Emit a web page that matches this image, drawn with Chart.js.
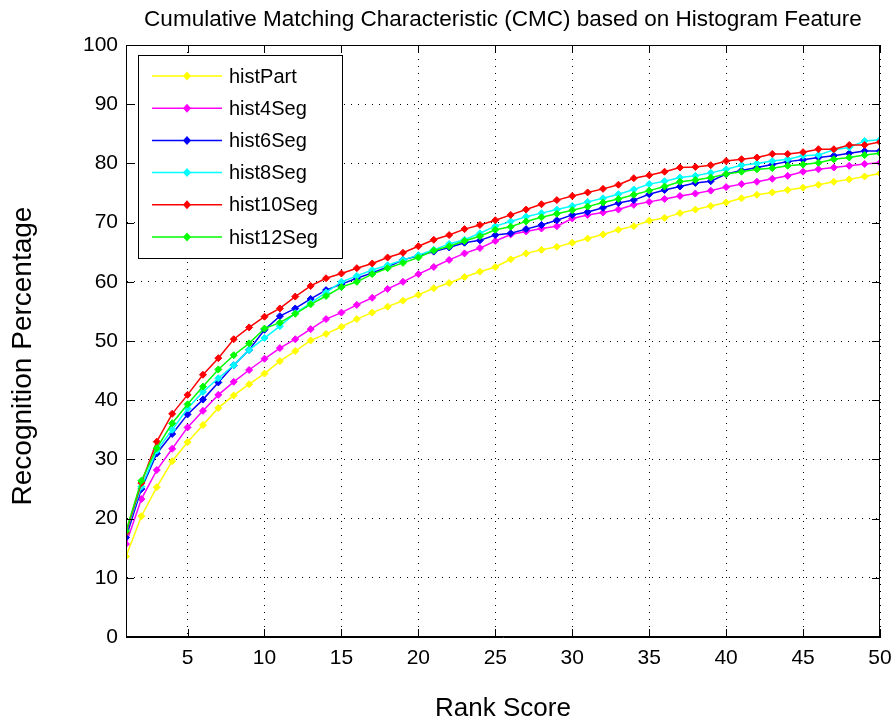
<!DOCTYPE html>
<html>
<head>
<meta charset="utf-8">
<script src="https://cdn.jsdelivr.net/npm/chart.js@4.4.1/dist/chart.umd.min.js"></script>
<style>
  body { margin: 0; background: #fff; }
  canvas { display: block; }
</style>
</head>
<body>
<canvas id="cmc" width="896" height="724"></canvas>
<script>
// rank 1..50
const ranks = [];
for (let r = 1; r <= 50; r++) ranks.push(r);

const xTicks = [5, 10, 15, 20, 25, 30, 35, 40, 45, 50];

const seriesNames = ['histPart', 'hist4Seg', 'hist6Seg', 'hist8Seg', 'hist10Seg', 'hist12Seg'];
const seriesColors = ['#ffff00', '#ff00ff', '#0000ff', '#00ffff', '#ff0000', '#00ff00'];

const histPart = [13.6, 20.4, 25.3, 29.7, 32.9, 35.8, 38.7, 40.8, 42.7, 44.5,
  46.6, 48.3, 50.1, 51.2, 52.4, 53.7, 54.8, 55.8, 56.8, 57.8,
  58.9, 59.8, 60.8, 61.7, 62.5, 63.8, 64.8, 65.4, 65.9, 66.6,
  67.3, 68.0, 68.8, 69.4, 70.3, 70.8, 71.6, 72.2, 72.8, 73.4,
  74.1, 74.7, 75.1, 75.5, 75.9, 76.4, 76.9, 77.3, 77.8, 78.3];
const hist4Seg = [15.7, 23.3, 28.2, 31.8, 35.4, 38.2, 40.9, 43.1, 45.1, 47.0,
  48.8, 50.3, 52.0, 53.7, 54.8, 56.1, 57.3, 58.8, 60.0, 61.3,
  62.5, 63.7, 64.8, 65.7, 66.9, 68.0, 68.5, 69.0, 69.4, 70.7,
  71.3, 71.7, 72.2, 73.0, 73.5, 74.0, 74.5, 74.9, 75.4, 76.0,
  76.5, 76.9, 77.4, 77.9, 78.6, 79.0, 79.3, 79.6, 79.9, 80.1];
const hist6Seg = [16.8, 25.0, 31.0, 34.3, 37.6, 40.1, 43.0, 45.9, 48.5, 51.9,
  54.2, 55.5, 57.1, 58.6, 59.6, 60.6, 61.5, 62.5, 63.7, 64.4,
  65.1, 65.8, 66.6, 67.0, 67.9, 68.2, 68.9, 69.6, 70.4, 71.3,
  71.8, 72.5, 73.3, 73.8, 74.8, 75.5, 76.1, 76.7, 77.0, 78.2,
  78.8, 79.3, 79.8, 80.3, 80.6, 81.0, 81.3, 81.7, 82.1, 82.1];
const hist8Seg = [17.6, 25.4, 31.5, 35.0, 38.6, 41.4, 43.7, 45.9, 48.5, 50.5,
  52.5, 54.7, 56.4, 58.2, 60.0, 61.0, 62.0, 62.8, 63.7, 64.5,
  65.4, 66.4, 67.1, 68.2, 69.4, 70.2, 71.0, 71.6, 72.2, 72.8,
  73.5, 74.1, 74.8, 75.6, 76.5, 77.0, 77.6, 77.9, 78.4, 79.0,
  79.7, 80.0, 80.4, 80.7, 81.3, 81.4, 82.3, 82.7, 83.8, 84.0];
const hist10Seg = [17.6, 26.0, 33.0, 37.7, 40.9, 44.3, 47.1, 50.3, 52.3, 54.1,
  55.5, 57.5, 59.3, 60.6, 61.4, 62.3, 63.1, 64.1, 64.9, 66.0,
  67.1, 67.9, 68.9, 69.6, 70.4, 71.3, 72.2, 73.1, 73.8, 74.5,
  75.1, 75.7, 76.4, 77.5, 78.0, 78.6, 79.3, 79.4, 79.7, 80.4,
  80.7, 81.0, 81.6, 81.6, 81.9, 82.4, 82.4, 83.1, 83.1, 83.6];
const hist12Seg = [17.9, 26.4, 31.9, 36.1, 39.3, 42.3, 45.2, 47.6, 49.6, 52.1,
  53.1, 54.6, 56.2, 57.6, 59.1, 60.0, 61.3, 62.3, 63.2, 64.1,
  65.3, 66.0, 66.9, 67.7, 68.8, 69.3, 70.2, 70.9, 71.5, 72.1,
  72.7, 73.4, 74.0, 74.7, 75.4, 76.1, 76.9, 77.2, 77.6, 78.2,
  78.6, 79.0, 79.2, 79.6, 79.8, 80.1, 80.7, 81.0, 81.4, 81.7];

const allSeries = [histPart, hist4Seg, hist6Seg, hist8Seg, hist10Seg, hist12Seg];

const textFont = '"Liberation Sans", Arial, sans-serif';

// matlab-like frame: title, axis labels, inward ticks, legend box
const matlabFrame = {
  id: 'matlabFrame',
  afterDraw(chart) {
    const ctx = chart.ctx;
    const a = chart.chartArea;
    const xs = chart.scales.x, ys = chart.scales.y;
    ctx.save();

    // box + inward ticks
    ctx.strokeStyle = '#000';
    ctx.lineWidth = 1;
    ctx.strokeRect(a.left + 0.5, a.top + 0.5, a.right - a.left - 1, a.bottom - a.top - 1);
    ctx.beginPath();
    ys.ticks.forEach(t => {
      const y = Math.round(ys.getPixelForValue(t.value)) + 0.5;
      ctx.moveTo(a.left, y); ctx.lineTo(a.left + 8, y);
      ctx.moveTo(a.right, y); ctx.lineTo(a.right - 8, y);
    });
    xTicks.forEach(v => {
      const x = Math.round(xs.getPixelForValue(v)) + 0.5;
      ctx.moveTo(x, a.bottom); ctx.lineTo(x, a.bottom - 8);
      ctx.moveTo(x, a.top); ctx.lineTo(x, a.top + 8);
    });
    ctx.stroke();

    // texts
    ctx.fillStyle = '#000';
    ctx.textAlign = 'center';
    ctx.textBaseline = 'middle';
    ctx.font = '22.5px ' + textFont;
    ctx.fillText('Cumulative Matching Characteristic (CMC) based on Histogram Feature', (a.left + a.right) / 2, 20);
    ctx.font = '26px ' + textFont;
    ctx.fillText('Rank Score', (a.left + a.right) / 2, 709);
    ctx.save();
    ctx.translate(23, 356);
    ctx.rotate(-Math.PI / 2);
    ctx.font = '28px ' + textFont;
    ctx.fillText('Recognition Percentage', 0, 0);
    ctx.restore();

    // legend
    const lx = 138, ly = 55, lw = 204, lh = 203;
    ctx.fillStyle = '#fff';
    ctx.fillRect(lx, ly, lw, lh);
    ctx.strokeStyle = '#000';
    ctx.strokeRect(lx + 0.5, ly + 0.5, lw, lh);
    ctx.font = '20px ' + textFont;
    ctx.textAlign = 'left';
    seriesNames.forEach((name, i) => {
      const y = 76 + i * 32.2;
      ctx.strokeStyle = seriesColors[i];
      ctx.lineWidth = 1.5;
      ctx.beginPath();
      ctx.moveTo(152, y); ctx.lineTo(222, y);
      ctx.stroke();
      ctx.fillStyle = seriesColors[i];
      ctx.beginPath();
      ctx.moveTo(187, y - 4.5); ctx.lineTo(191, y); ctx.lineTo(187, y + 4.5); ctx.lineTo(183, y);
      ctx.closePath();
      ctx.fill();
      ctx.fillStyle = '#000';
      ctx.fillText(name, 229, y + 1);
    });
    ctx.restore();
  }
};

const datasets = seriesNames.map((name, i) => ({
  label: name,
  data: allSeries[i],
  borderColor: seriesColors[i],
  backgroundColor: seriesColors[i],
  borderWidth: 1.5,
  pointStyle: 'rectRot',
  pointRadius: 3.5,
  pointBorderWidth: 1,
  tension: 0,
  order: seriesNames.length - i
}));

new Chart(document.getElementById('cmc'), {
  type: 'line',
  data: { labels: ranks, datasets: datasets },
  options: {
    responsive: false,
    animation: false,
    devicePixelRatio: 1,
    layout: { padding: { left: 0, right: 16, top: 45, bottom: 0 } },
    plugins: {
      legend: { display: false },
      title: { display: false },
      tooltip: { enabled: false }
    },
    scales: {
      x: {
        type: 'linear',
        min: 1,
        max: 50,
        afterBuildTicks: s => { s.ticks = xTicks.map(v => ({ value: v })); },
        afterFit: s => { s.height = 87; s.paddingRight = 0; s.paddingLeft = 0; },
        grid: { color: '#000', lineWidth: 1, drawTicks: false },
        border: { display: true, color: '#000', dash: [1, 6] },
        ticks: { color: '#000', padding: 9, maxRotation: 0, font: { family: textFont, size: 21 } }
      },
      y: {
        min: 0,
        max: 100,
        afterFit: s => { s.width = 126; s.paddingTop = 0; s.paddingBottom = 0; },
        grid: { color: '#000', lineWidth: 1, drawTicks: false },
        border: { display: true, color: '#000', dash: [1, 6] },
        ticks: { color: '#000', stepSize: 10, padding: 8, font: { family: textFont, size: 21 } }
      }
    }
  },
  plugins: [matlabFrame]
});
</script>
</body>
</html>
